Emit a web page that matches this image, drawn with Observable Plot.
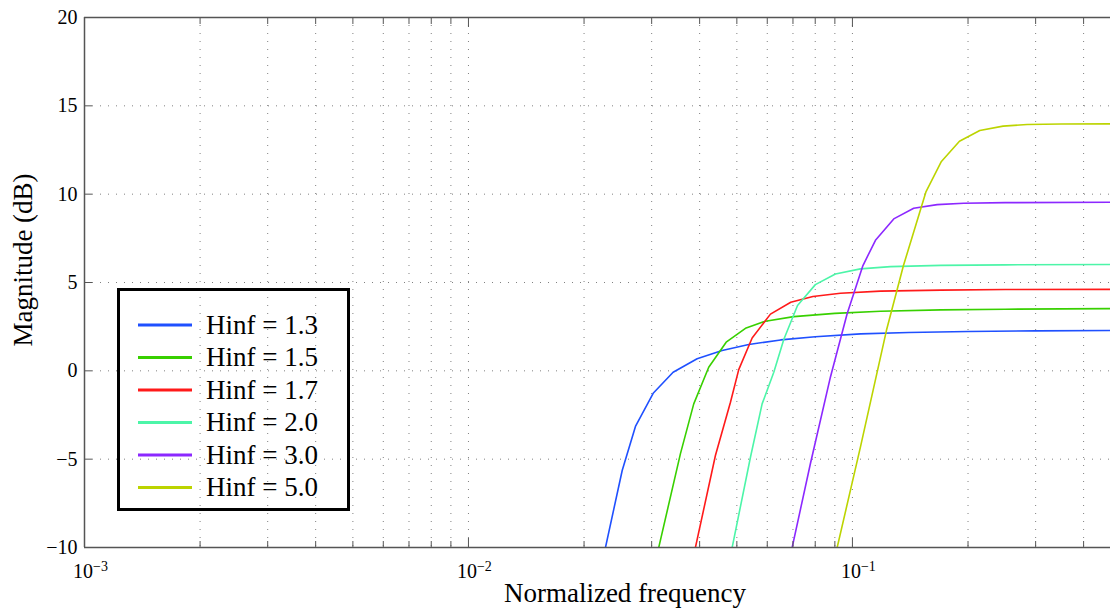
<!DOCTYPE html>
<html><head><meta charset="utf-8">
<script src="https://cdn.jsdelivr.net/npm/d3@7"></script>
<script src="https://cdn.jsdelivr.net/npm/@observablehq/plot@0.6"></script>
<style>
body{margin:0;background:#fff;}
#chart{position:relative;width:1110px;height:609px;}
</style>
</head><body><div id="chart"></div>
<script>
// ---- data ----
const hinfLabels = ["Hinf = 1.3", "Hinf = 1.5", "Hinf = 1.7", "Hinf = 2.0", "Hinf = 3.0", "Hinf = 5.0"];
const colors = ["#1f50ff", "#38d000", "#ff1a1a", "#4cf5a8", "#8c28ff", "#bcd400"];

const f13 = [0.02274, 0.02514, 0.02722, 0.03027, 0.03412, 0.0394, 0.04578, 0.0537, 0.065, 0.08, 0.105, 0.14, 0.2, 0.3, 0.47];
const db13 = [-10, -5.64, -3.15, -1.27, -0.08, 0.68, 1.15, 1.49, 1.75, 1.93, 2.09, 2.17, 2.23, 2.26, 2.28];

const f15 = [0.0313, 0.03564, 0.03861, 0.04224, 0.0469, 0.05287, 0.05935, 0.07035, 0.09, 0.1183, 0.17, 0.25, 0.47];
const db15 = [-10, -4.70, -1.87, 0.20, 1.62, 2.43, 2.81, 3.07, 3.25, 3.37, 3.45, 3.49, 3.52];

const f17 = [0.039, 0.04397, 0.04812, 0.05057, 0.0548, 0.06116, 0.06909, 0.07888, 0.09306, 0.1183, 0.17, 0.25, 0.47];
const db17 = [-10, -4.79, -1.78, 0.07, 1.86, 3.21, 3.88, 4.21, 4.39, 4.51, 4.57, 4.60, 4.61];

const f20 = [0.04861, 0.05425, 0.05818, 0.0624, 0.06625, 0.07194, 0.08007, 0.0903, 0.1049, 0.1256, 0.17, 0.25, 0.47];
const db20 = [-10, -4.89, -1.87, -0.08, 1.77, 3.70, 4.88, 5.48, 5.77, 5.90, 5.97, 6.00, 6.02];

const f30 = [0.06966, 0.07771, 0.08762, 0.09687, 0.1065, 0.1148, 0.1281, 0.1444, 0.1662, 0.1949, 0.25, 0.47];
const db30 = [-10, -5.26, -0.36, 3.23, 5.96, 7.39, 8.60, 9.20, 9.41, 9.49, 9.52, 9.54];

const f50 = [0.09125, 0.1049, 0.1226, 0.1358, 0.1555, 0.1705, 0.19, 0.2146, 0.2468, 0.2851, 0.35, 0.47];
const db50 = [-10, -4.32, 2.28, 5.96, 10.15, 11.85, 13.0, 13.6, 13.85, 13.94, 13.97, 13.98];

const xMajor = [0.001, 0.01, 0.1];
const xMajorLabels = ["10^\u22123", "10^\u22122", "10^\u22121"];
const xMinor = [0.002, 0.003, 0.004, 0.005, 0.006, 0.007, 0.008, 0.009,
                0.02, 0.03, 0.04, 0.05, 0.06, 0.07, 0.08, 0.09,
                0.2, 0.3, 0.4];
const yTicks = [-10, -5, 0, 5, 10, 15, 20];
const xLabel = "Normalized frequency";
const yLabel = "Magnitude (dB)";

// ---- build table ----
const series = [
  {name: hinfLabels[0], f: f13, db: db13},
  {name: hinfLabels[1], f: f15, db: db15},
  {name: hinfLabels[2], f: f17, db: db17},
  {name: hinfLabels[3], f: f20, db: db20},
  {name: hinfLabels[4], f: f30, db: db30},
  {name: hinfLabels[5], f: f50, db: db50}
];
const rows = series.flatMap(s => s.f.map((f, i) => ({series: s.name, f, db: s.db[i]})));
const xLab = new Map(xMajor.map((v, i) => [v, xMajorLabels[i]]));
const axisColor = "#555";
const serif = "'Liberation Serif', 'Times New Roman', serif";
const gridStyle = {stroke: "#808080", strokeOpacity: 1, strokeWidth: 1, strokeDasharray: "1,7"};

const plot = Plot.plot({
  width: 1110, height: 609,
  marginTop: 17, marginBottom: 62, marginLeft: 84, marginRight: 0,
  style: {fontFamily: serif, fontSize: "20px", background: "#fff", color: "#000"},
  x: {type: "log", domain: [0.001, 0.47], label: null},
  y: {domain: [-10, 20], label: null},
  color: {domain: hinfLabels, range: colors},
  marks: [
    Plot.gridX(xMajor.concat(xMinor), gridStyle),
    Plot.gridY(yTicks, gridStyle),
    Plot.line(rows, {x: "f", y: "db", z: "series", stroke: "series", strokeWidth: 1.6, clip: true}),
    Plot.axisX(xMajor, {tickSize: -9, tickPadding: 25, stroke: axisColor, tickFormat: d => xLab.get(d), label: null}),
    Plot.axisX(xMinor, {tickSize: -6, stroke: axisColor, tickFormat: () => "", label: null}),
    Plot.axisX(xMajor, {anchor: "top", tickSize: -9, stroke: axisColor, tickFormat: () => "", label: null}),
    Plot.axisX(xMinor, {anchor: "top", tickSize: -6, stroke: axisColor, tickFormat: () => "", label: null}),
    Plot.axisY(yTicks, {tickSize: -8, tickPadding: 15, stroke: axisColor, tickFormat: d => d < 0 ? "\u2212" + (-d) : String(d), label: null}),
    Plot.ruleY([-10], {stroke: axisColor, strokeWidth: 1.5}),
    Plot.ruleY([20], {stroke: axisColor, strokeWidth: 1.5}),
    Plot.ruleX([0.001], {stroke: axisColor, strokeWidth: 1.5})
  ]
});

const svg = d3.select(plot);
// superscript exponents on x tick labels
svg.selectAll('g[aria-label="x-axis tick label"] text').each(function () {
  const s = this.textContent;
  if (!s || s.indexOf("^") < 0) return;
  const [b, e] = s.split("^");
  const t = d3.select(this);
  t.text(null).attr("text-anchor", "start").attr("dx", "-11.5");
  t.append("tspan").text(b);
  t.append("tspan").attr("dy", "-0.5em").attr("font-size", "14px").text(e);
});

// axis titles
svg.append("text").attr("x", 625).attr("y", 602).attr("text-anchor", "middle")
  .attr("font-family", serif).attr("font-size", 27).attr("fill", "#000").text(xLabel);
svg.append("text").attr("transform", "translate(32,260) rotate(-90)").attr("text-anchor", "middle")
  .attr("font-family", serif).attr("font-size", 27).attr("fill", "#000").text(yLabel);

// legend
const lg = svg.append("g").attr("aria-label", "legend");
lg.append("rect").attr("x", 118.5).attr("y", 289.5).attr("width", 230).attr("height", 220)
  .attr("fill", "none").attr("stroke", "#000").attr("stroke-width", 3);
hinfLabels.forEach((name, i) => {
  const y = 325 + i * 32.5;
  lg.append("line").attr("x1", 138).attr("x2", 192).attr("y1", y).attr("y2", y)
    .attr("stroke", colors[i]).attr("stroke-width", 3);
  lg.append("text").attr("x", 206).attr("y", y + 8.5).attr("text-anchor", "start")
    .attr("font-family", serif).attr("font-size", 27).attr("fill", "#000").text(name);
});

document.getElementById("chart").appendChild(plot);
</script>
</body></html>
